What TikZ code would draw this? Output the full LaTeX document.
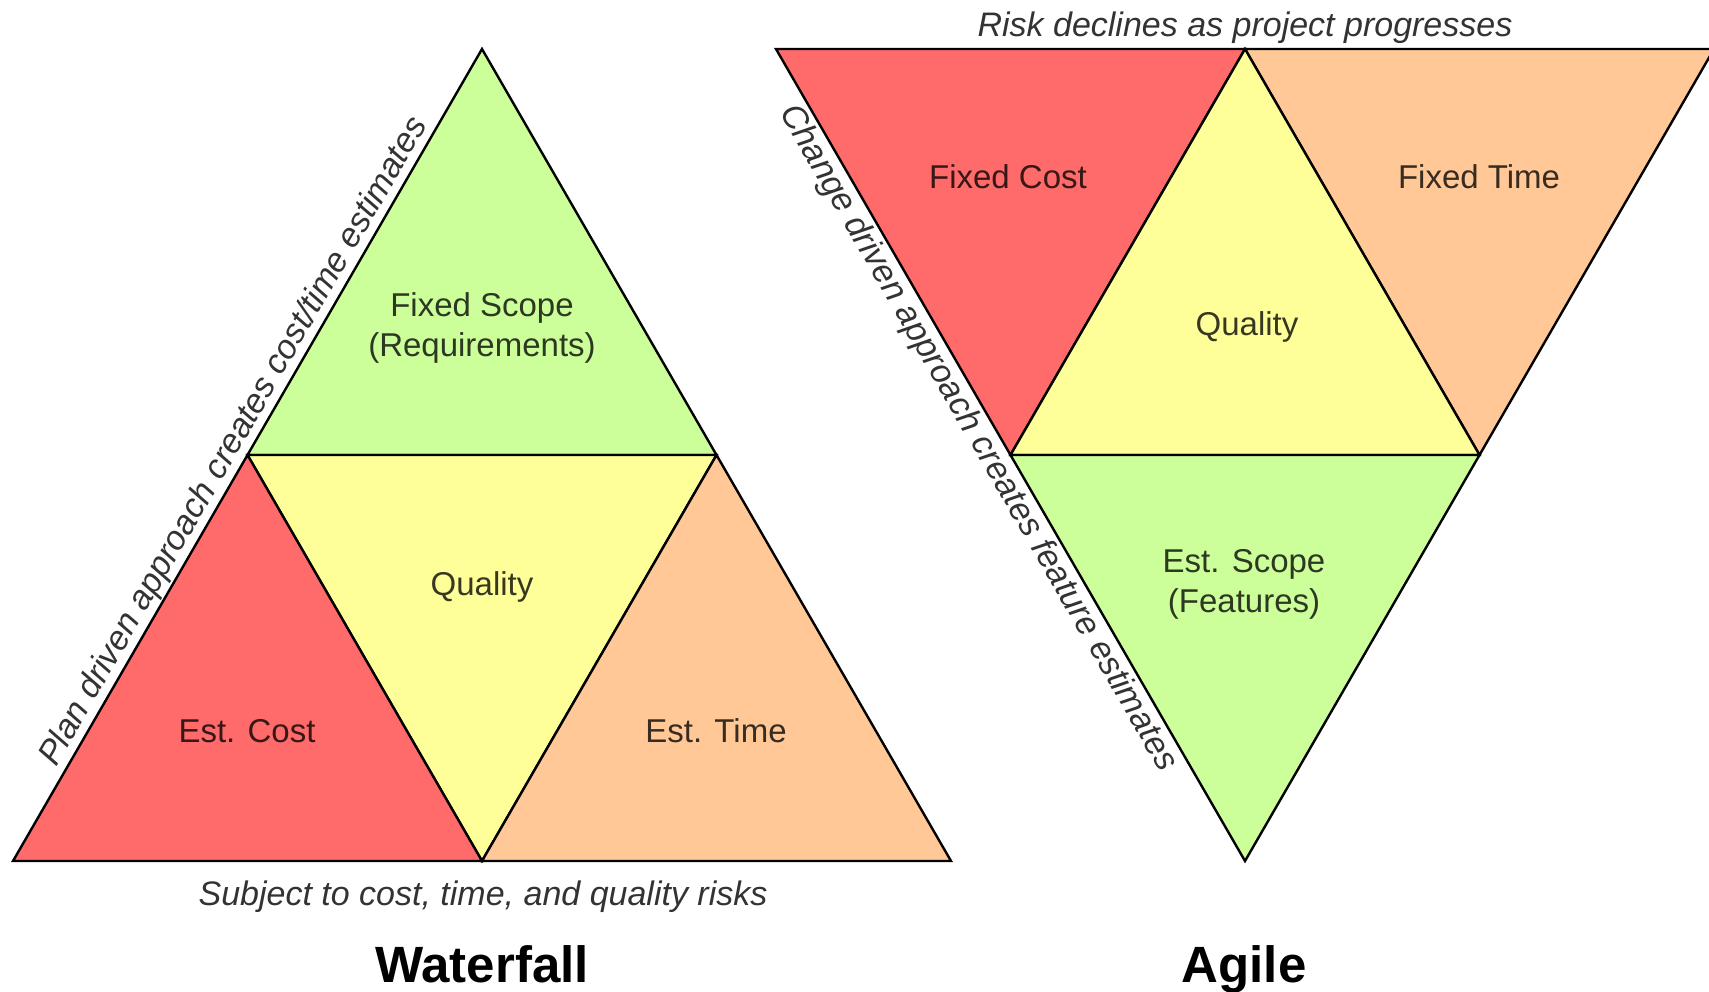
\documentclass[tikz,border=0pt]{standalone}
\usepackage{fontspec}
\setmainfont{Liberation Sans}
\usepackage{xcolor}
\definecolor{costred}{HTML}{FF6B6B}
\definecolor{timeorange}{HTML}{FFC896}
\definecolor{scopegreen}{HTML}{CCFF99}
\definecolor{qualyellow}{HTML}{FFFF99}
\newcommand{\bodysize}{\fontsize{33}{40}\selectfont}
\newcommand{\notesize}{\fontsize{34}{40}\selectfont}
\newcommand{\titlesize}{\fontsize{51}{60}\selectfont}
\tikzset{
  part/.style      = {draw=black, line width=2.4pt, line join=miter},
  costlabel/.style = {font=\bodysize, text=costred!22!black, align=center},
  timelabel/.style = {font=\bodysize, text=timeorange!22!black, align=center},
  scopelabel/.style= {font=\bodysize, text=scopegreen!22!black, align=center},
  quallabel/.style = {font=\bodysize, text=qualyellow!22!black, align=center},
  note/.style      = {font=\notesize\itshape, text=black!80, inner sep=2pt},
  title/.style     = {font=\titlesize\bfseries, text=black},
}

\begin{document}
\begin{tikzpicture}[x=1pt, y=-1pt]
    \useasboundingbox (0,0) rectangle (1709,992);
    \clip (0,0) rectangle (1709,992);
    % --- waterfall corners --------------------------------------------
    \coordinate (wtop)   at (482,49);
    \coordinate (wleft)  at (247.5,455);
    \coordinate (wright) at (716.5,455);
    \coordinate (wbl)    at (13,861);
    \coordinate (wbm)    at (482,861);
    \coordinate (wbr)    at (951,861);
    % --- agile corners ------------------------------------------------
    \coordinate (atl)    at (776,49);
    \coordinate (atm)    at (1245,49);
    \coordinate (atr)    at (1714,49);
    \coordinate (aleft)  at (1010.5,455);
    \coordinate (aright) at (1479.5,455);
    \coordinate (abot)   at (1245,861);
    % --- waterfall pieces ---------------------------------------------
    \filldraw[part, fill=scopegreen] (wtop) -- (wleft) -- (wright) -- cycle;
    \filldraw[part, fill=qualyellow] (wleft) -- (wright) -- (wbm) -- cycle;
    \filldraw[part, fill=costred]    (wleft) -- (wbm) -- (wbl) -- cycle;
    \filldraw[part, fill=timeorange] (wright) -- (wbr) -- (wbm) -- cycle;
    % --- agile pieces -------------------------------------------------
    \filldraw[part, fill=costred]    (atl) -- (atm) -- (aleft) -- cycle;
    \filldraw[part, fill=timeorange] (atm) -- (atr) -- (aright) -- cycle;
    \filldraw[part, fill=qualyellow] (atm) -- (aright) -- (aleft) -- cycle;
    \filldraw[part, fill=scopegreen] (aleft) -- (aright) -- (abot) -- cycle;
    % --- waterfall labels ---------------------------------------------
    \node[scopelabel] (wscope) at (482,328) {Fixed Scope\\(Requirements)};
    \node[quallabel, anchor=base] (wqual) at (482,595) {Quality};
    \node[costlabel, anchor=base] (wcost) at (247,742) {Est. Cost};
    \node[timelabel, anchor=base] (wtime) at (716,742) {Est. Time};
    % --- agile labels -------------------------------------------------
    \node[costlabel, anchor=base] (acost) at (1008,189) {Fixed Cost};
    \node[timelabel, anchor=base] (atime) at (1479,189) {Fixed Time};
    \node[quallabel, anchor=base] (aqual) at (1247,336) {Quality};
    \node[scopelabel] (ascope) at (1244,584) {Est. Scope\\(Features)};
    % --- notes --------------------------------------------------------
    \path (wbl) -- node[note, sloped, above, pos=0.505] (plannote)
      {Plan driven approach creates cost/time estimates} (wtop);
    \path (atl) -- node[note, sloped, below, pos=0.467, inner sep=4pt] (changenote)
      {Change driven approach creates feature estimates} (abot);
    \node[note, anchor=base] (risknote) at (1245,37) {Risk declines as project progresses};
    \node[note, anchor=base] (subjnote) at (483,905) {Subject to cost, time, and quality risks};
    % --- titles -------------------------------------------------------
    \node[title, anchor=base] (wtitle) at (482,982) {Waterfall};
    \node[title, anchor=base] (atitle) at (1244,982) {Agile};
\end{tikzpicture}
\end{document}
